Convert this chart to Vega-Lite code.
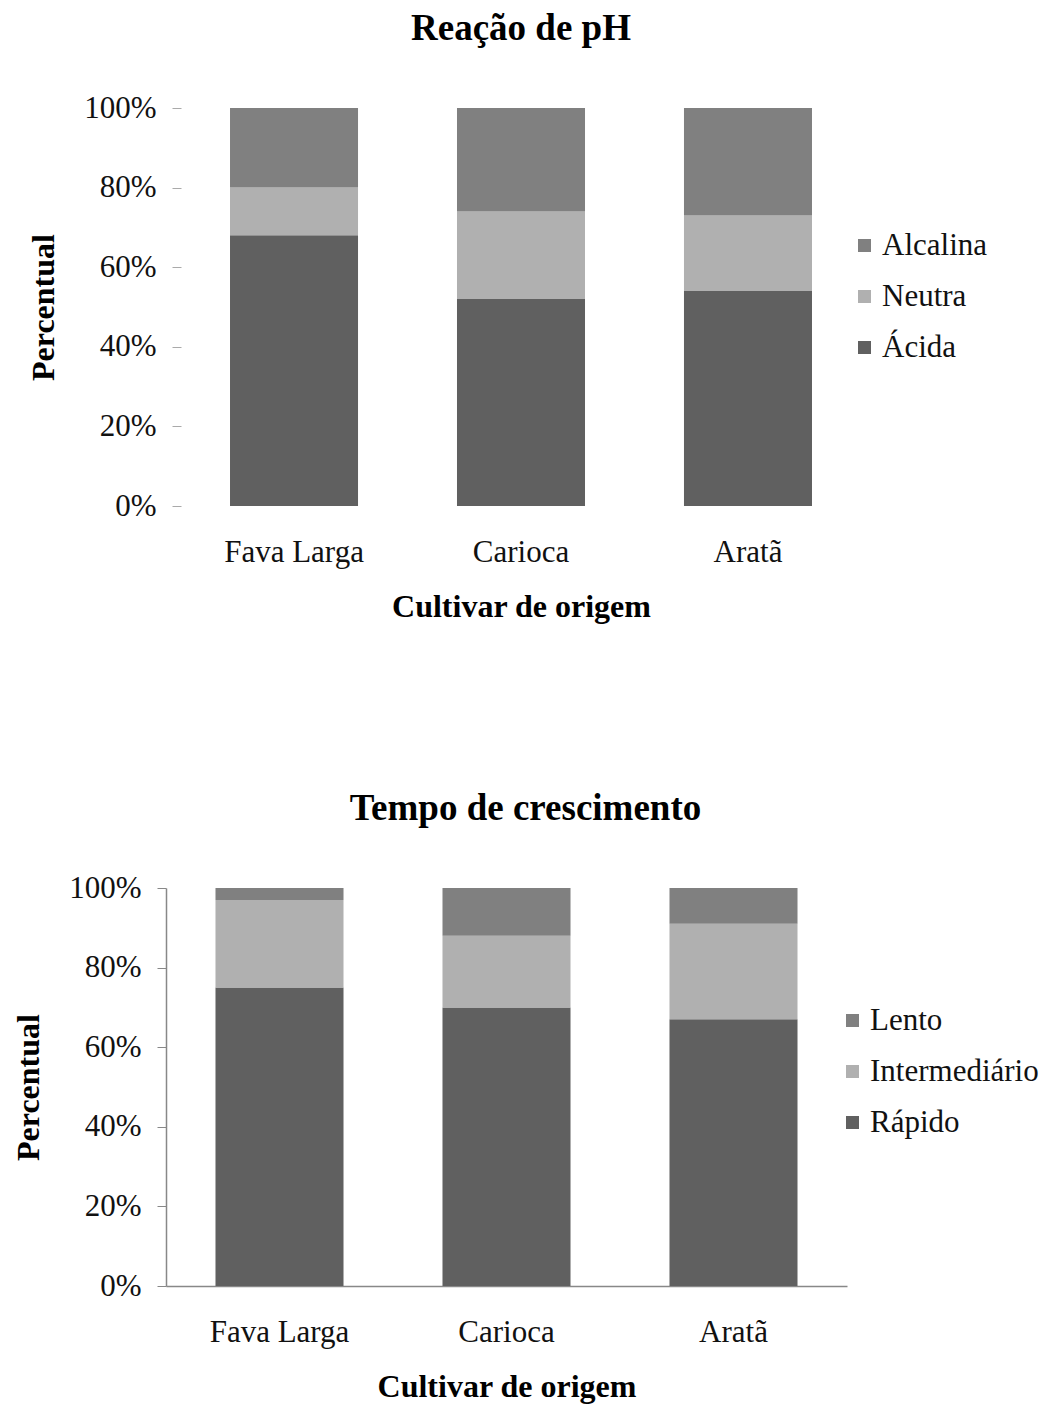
{
  "$schema": "https://vega.github.io/schema/vega-lite/v6.json",
  "background": "white",
  "padding": {"left": 12, "top": 10, "right": 5, "bottom": 5},
  "spacing": 168,
  "config": {
    "font": "Liberation Serif",
    "view": {"stroke": null},
    "axis": {"labelFont": "Liberation Serif", "titleFont": "Liberation Serif", "labelColor": "#111", "titleColor": "#000", "grid": false},
    "legend": {"labelFont": "Liberation Serif"}
  },
  "datasets": {
    "ph": [
      {"cultivar": "Fava Larga", "tipo": "Ácida", "valor": 0.68},
      {"cultivar": "Fava Larga", "tipo": "Neutra", "valor": 0.12},
      {"cultivar": "Fava Larga", "tipo": "Alcalina", "valor": 0.20},
      {"cultivar": "Carioca", "tipo": "Ácida", "valor": 0.52},
      {"cultivar": "Carioca", "tipo": "Neutra", "valor": 0.22},
      {"cultivar": "Carioca", "tipo": "Alcalina", "valor": 0.26},
      {"cultivar": "Aratã", "tipo": "Ácida", "valor": 0.54},
      {"cultivar": "Aratã", "tipo": "Neutra", "valor": 0.19},
      {"cultivar": "Aratã", "tipo": "Alcalina", "valor": 0.27}
    ],
    "tempo": [
      {"cultivar": "Fava Larga", "tipo": "Rápido", "valor": 0.75},
      {"cultivar": "Fava Larga", "tipo": "Intermediário", "valor": 0.22},
      {"cultivar": "Fava Larga", "tipo": "Lento", "valor": 0.03},
      {"cultivar": "Carioca", "tipo": "Rápido", "valor": 0.70},
      {"cultivar": "Carioca", "tipo": "Intermediário", "valor": 0.18},
      {"cultivar": "Carioca", "tipo": "Lento", "valor": 0.12},
      {"cultivar": "Aratã", "tipo": "Rápido", "valor": 0.67},
      {"cultivar": "Aratã", "tipo": "Intermediário", "valor": 0.24},
      {"cultivar": "Aratã", "tipo": "Lento", "valor": 0.09}
    ]
  },
  "resolve": {"scale": {"color": "independent", "x": "independent", "y": "independent"}},
  "vconcat": [
    {
      "data": {"name": "ph"},
      "width": 710,
      "height": 398,
      "title": {"text": "Reação de pH", "fontSize": 37, "fontWeight": "bold", "font": "Liberation Serif", "offset": 44},
      "transform": [{"calculate": "indexof(['Ácida','Neutra','Alcalina'], datum.tipo)", "as": "ordem"}],
      "mark": {"type": "bar"},
      "encoding": {
        "x": {
          "field": "cultivar", "type": "nominal",
          "sort": ["Fava Larga", "Carioca", "Aratã"],
          "scale": {"paddingInner": 0.436, "paddingOuter": 0.282},
          "axis": {"title": "Cultivar de origem", "titleFontSize": 32, "titleFontWeight": "bold", "titlePadding": 24, "labelAngle": 0, "labelFontSize": 31, "labelPadding": 31, "domain": false, "ticks": false}
        },
        "y": {
          "field": "valor", "type": "quantitative", "stack": "zero",
          "scale": {"domain": [0, 1]},
          "axis": {"title": "Percentual", "titleFontSize": 32, "titleFontWeight": "bold", "titlePadding": 23, "format": ".0%", "values": [0, 0.2, 0.4, 0.6, 0.8, 1], "labelFontSize": 31, "labelPadding": 16, "offset": -15, "domain": false, "tickColor": "#aaa", "tickSize": 9}
        },
        "color": {
          "field": "tipo", "type": "nominal",
          "scale": {"domain": ["Alcalina", "Neutra", "Ácida"], "range": ["#808080", "#b0b0b0", "#606060"]},
          "legend": {"title": null, "orient": "none", "legendX": 683, "legendY": 122, "symbolType": "square", "symbolSize": 170, "symbolStrokeWidth": 0, "labelFontSize": 31, "labelColor": "#111", "labelLimit": 400, "rowPadding": 19, "labelOffset": 2}
        },
        "order": {"field": "ordem", "type": "quantitative"}
      }
    },
    {
      "data": {"name": "tempo"},
      "width": 681,
      "height": 398,
      "title": {"text": "Tempo de crescimento", "fontSize": 37, "fontWeight": "bold", "font": "Liberation Serif", "offset": 44, "dx": 19},
      "transform": [{"calculate": "indexof(['Rápido','Intermediário','Lento'], datum.tipo)", "as": "ordem"}],
      "mark": {"type": "bar"},
      "encoding": {
        "x": {
          "field": "cultivar", "type": "nominal",
          "sort": ["Fava Larga", "Carioca", "Aratã"],
          "scale": {"paddingInner": 0.436, "paddingOuter": 0.218},
          "axis": {"title": "Cultivar de origem", "titleFontSize": 32, "titleFontWeight": "bold", "titlePadding": 24, "labelAngle": 0, "labelFontSize": 31, "labelPadding": 31, "domain": true, "domainColor": "#888", "domainWidth": 1.5, "ticks": false}
        },
        "y": {
          "field": "valor", "type": "quantitative", "stack": "zero",
          "scale": {"domain": [0, 1]},
          "axis": {"title": "Percentual", "titleFontSize": 32, "titleFontWeight": "bold", "titlePadding": 23, "format": ".0%", "values": [0, 0.2, 0.4, 0.6, 0.8, 1], "labelFontSize": 31, "labelPadding": 16, "domain": true, "domainColor": "#888", "domainWidth": 1.5, "tickColor": "#888", "tickSize": 9}
        },
        "color": {
          "field": "tipo", "type": "nominal",
          "scale": {"domain": ["Lento", "Intermediário", "Rápido"], "range": ["#808080", "#b0b0b0", "#606060"]},
          "legend": {"title": null, "orient": "none", "legendX": 671, "legendY": 117, "symbolType": "square", "symbolSize": 170, "symbolStrokeWidth": 0, "labelFontSize": 31, "labelColor": "#111", "labelLimit": 400, "rowPadding": 19, "labelOffset": 2}
        },
        "order": {"field": "ordem", "type": "quantitative"}
      }
    }
  ]
}
